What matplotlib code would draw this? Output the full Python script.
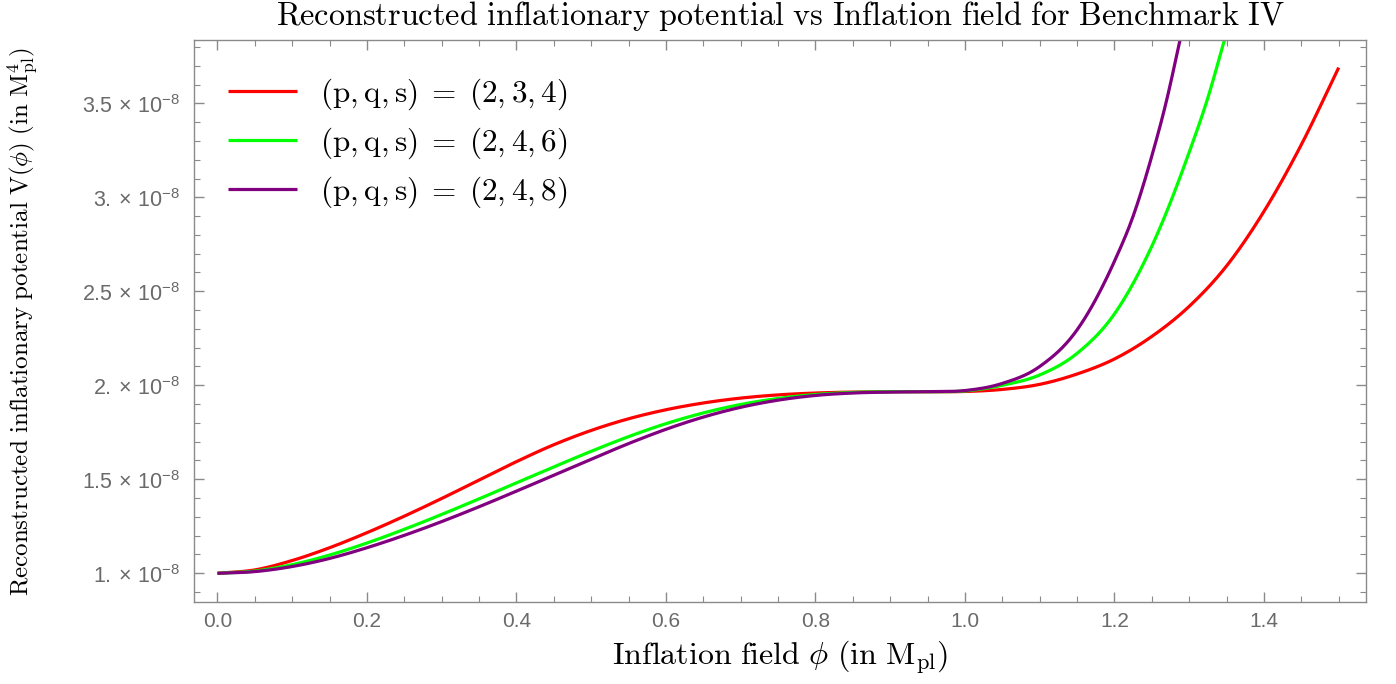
import numpy as np
import matplotlib
matplotlib.use("Agg")
import matplotlib.pyplot as plt
from matplotlib.ticker import MultipleLocator, FixedLocator, FixedFormatter

plt.rcParams['mathtext.fontset'] = 'cm'
plt.rcParams['mathtext.rm'] = 'Liberation Sans'
plt.rcParams['mathtext.it'] = 'Liberation Sans:italic'
plt.rcParams['mathtext.bf'] = 'Liberation Sans:bold'
plt.rcParams['mathtext.sf'] = 'Liberation Sans'

# ---------------- data (V in units of 1e-8 M_pl^4) ----------------
phi_red = [0.00, 0.05, 0.10, 0.15, 0.20, 0.25, 0.30, 0.35, 0.40, 0.45, 0.50,
           0.55, 0.60, 0.65, 0.70, 0.75, 0.80, 0.85, 0.90, 0.95, 1.00, 1.05,
           1.10, 1.15, 1.20, 1.25, 1.30, 1.35, 1.40, 1.45, 1.50]
V_red = [1.000, 1.018, 1.068, 1.136, 1.216, 1.304, 1.398, 1.496, 1.594, 1.684, 1.760,
         1.822, 1.870, 1.906, 1.932, 1.949, 1.959, 1.964, 1.966, 1.966, 1.967, 1.978,
         2.005, 2.060, 2.140, 2.260, 2.420, 2.635, 2.925, 3.280, 3.690]

phi_green = [0.00, 0.05, 0.10, 0.15, 0.20, 0.25, 0.30, 0.35, 0.40, 0.45, 0.50,
             0.55, 0.60, 0.65, 0.70, 0.75, 0.80, 0.85, 0.90, 0.95, 1.00, 1.05,
             1.10, 1.15, 1.20, 1.25, 1.30, 1.325, 1.347]
V_green = [1.000, 1.012, 1.046, 1.097, 1.161, 1.234, 1.313, 1.396, 1.481, 1.566, 1.649,
           1.727, 1.796, 1.853, 1.898, 1.930, 1.951, 1.962, 1.966, 1.966, 1.970, 2.000,
           2.055, 2.170, 2.380, 2.740, 3.240, 3.530, 3.835]

phi_purple = [0.00, 0.05, 0.10, 0.15, 0.20, 0.25, 0.30, 0.35, 0.40, 0.45, 0.50,
              0.55, 0.60, 0.65, 0.70, 0.75, 0.80, 0.85, 0.90, 0.95, 1.00, 1.05,
              1.10, 1.15, 1.20, 1.225, 1.25, 1.27, 1.2876]
V_purple = [1.000, 1.009, 1.036, 1.079, 1.136, 1.202, 1.275, 1.354, 1.437, 1.522, 1.607,
            1.690, 1.766, 1.831, 1.883, 1.921, 1.946, 1.959, 1.964, 1.966, 1.972, 2.010,
            2.100, 2.295, 2.660, 2.900, 3.220, 3.520, 3.835]

labels = [r"$(\mathrm{p},\mathrm{q},\mathrm{s})\;=\;(2,3,4)$",
          r"$(\mathrm{p},\mathrm{q},\mathrm{s})\;=\;(2,4,6)$",
          r"$(\mathrm{p},\mathrm{q},\mathrm{s})\;=\;(2,4,8)$"]
colors = ["#ff0000", "#00ff00", "#800080"]

xtick_vals = [0.0, 0.2, 0.4, 0.6, 0.8, 1.0, 1.2, 1.4]
xtick_labels = ["0.0", "0.2", "0.4", "0.6", "0.8", "1.0", "1.2", "1.4"]
ytick_vals = [1.0, 1.5, 2.0, 2.5, 3.0, 3.5]
ytick_labels = [r"$\mathrm{1.}\times\,\mathrm{10}^{-8}$", r"$\mathrm{1.5}\,\times\,\mathrm{10}^{-8}$",
                r"$\mathrm{2.}\times\,\mathrm{10}^{-8}$", r"$\mathrm{2.5}\,\times\,\mathrm{10}^{-8}$",
                r"$\mathrm{3.}\times\,\mathrm{10}^{-8}$", r"$\mathrm{3.5}\,\times\,\mathrm{10}^{-8}$"]
SCALE = 1e-8


def smooth(x, y, n=20):
    """cubic Hermite drawing through the read points"""
    x = np.asarray(x, float)
    y = np.asarray(y, float)
    m = np.gradient(y, x)
    xs, ys = [], []
    for i in range(len(x) - 1):
        h = x[i + 1] - x[i]
        t = np.linspace(0, 1, n, endpoint=False)
        h00 = 2 * t**3 - 3 * t**2 + 1
        h10 = t**3 - 2 * t**2 + t
        h01 = -2 * t**3 + 3 * t**2
        h11 = t**3 - t**2
        xs.append(x[i] + t * h)
        ys.append(h00 * y[i] + h10 * h * m[i] + h01 * y[i + 1] + h11 * h * m[i + 1])
    xs.append([x[-1]])
    ys.append([y[-1]])
    return np.concatenate(xs), np.concatenate(ys)


fig = plt.figure(figsize=(13.96, 6.84), dpi=100)
ax = fig.add_axes([194 / 1396, 1 - 602 / 684, (1366 - 194) / 1396, (602 - 40.4) / 684])

for px, py, c, lab in [(phi_red, V_red, colors[0], labels[0]),
                       (phi_green, V_green, colors[1], labels[1]),
                       (phi_purple, V_purple, colors[2], labels[2])]:
    sx, sy = smooth(px, py)
    ax.plot(sx, sy * SCALE, color=c, lw=2.3, label=lab, solid_capstyle='butt')

ax.set_xlim(-0.0314, 1.5365)
ax.set_ylim(0.8473 * SCALE, 3.8346 * SCALE)

frame_col = "#8a8a8a"
for s in ax.spines.values():
    s.set_color(frame_col)
    s.set_linewidth(1.0)

ax.xaxis.set_major_locator(FixedLocator(xtick_vals))
ax.xaxis.set_major_formatter(FixedFormatter(xtick_labels))
ax.xaxis.set_minor_locator(MultipleLocator(0.05))
ax.yaxis.set_major_locator(FixedLocator([v * SCALE for v in ytick_vals]))
ax.yaxis.set_major_formatter(FixedFormatter(ytick_labels))
ax.yaxis.set_minor_locator(MultipleLocator(0.1 * SCALE))

ax.tick_params(which='both', direction='in', top=True, right=True,
               color=frame_col, labelcolor="#6a6a6a")
ax.tick_params(which='major', length=7, width=1.0)
ax.tick_params(which='minor', length=4, width=0.8)
ax.tick_params(axis='x', which='major', labelsize=15, pad=7)
ax.tick_params(axis='y', which='major', labelsize=15.5, pad=10)
for t in ax.get_xticklabels():
    t.set_family(["Liberation Sans", "DejaVu Sans"])
for t in ax.get_yticklabels():
    t.set_math_fontfamily('custom')

ax.set_title(r"$\mathrm{Reconstructed\ inflationary\ potential\ vs\ Inflation\ field\ for\ Benchmark\ IV}$",
             fontsize=23.2, pad=11)
ax.set_xlabel(r"$\mathrm{Inflation\ field}\ \phi\ (\mathrm{in\ M}_{\mathrm{pl}})$", fontsize=23, labelpad=6)
ax.set_ylabel(r"$\mathrm{Reconstructed\ inflationary\ potential\ V}(\phi)\ (\mathrm{in\ M}_{\mathrm{pl}}^{4})$",
              fontsize=18)
ax.yaxis.set_label_coords((40 - 194) / 1172, 0.5)

leg = ax.legend(loc='upper left', bbox_to_anchor=((228 - 194) / 1172, (602 - 77) / 561.6),
                frameon=False, fontsize=22.5, borderpad=0, borderaxespad=0,
                handlelength=2.2, handletextpad=0.75, labelspacing=0.42)

fig.savefig("out.png", dpi=100)
